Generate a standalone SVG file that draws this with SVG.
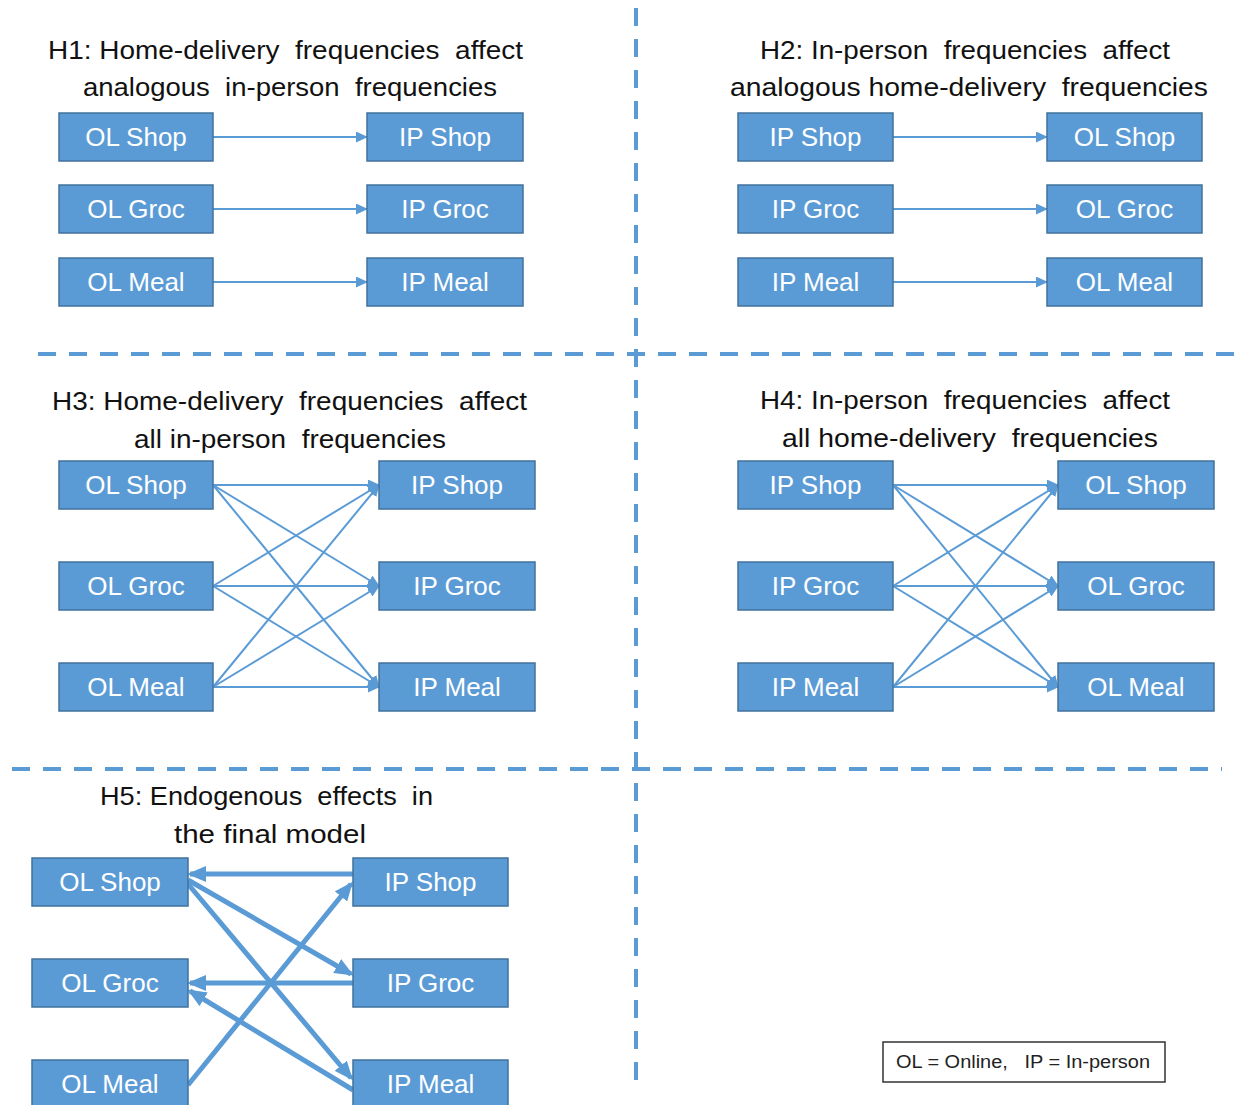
<svg xmlns="http://www.w3.org/2000/svg" width="1241" height="1105" viewBox="0 0 1241 1105">
<style>
.bg{fill:#ffffff}
.box{fill:#5B9BD5;stroke:#41719C;stroke-width:1.5}
.lbl{font-family:"Liberation Sans",Arial,sans-serif;font-size:26px;fill:#ffffff;text-anchor:middle}
.ttl{font-family:"Liberation Sans",Arial,sans-serif;font-size:25px;fill:#111111;white-space:pre}
.div{stroke:#5B9BD5;stroke-width:4;stroke-dasharray:18 13;fill:none}
.thin{stroke:#5B9BD5;stroke-width:2;fill:none;marker-end:url(#ah)}
.thick{stroke:#5B9BD5;stroke-width:5;fill:none;marker-end:url(#ahb)}
.leg{fill:#ffffff;stroke:#333333;stroke-width:1.5}
.legt{font-family:"Liberation Sans",Arial,sans-serif;font-size:18px;fill:#222222;white-space:pre}
</style>
<defs>
<marker id="ah" markerUnits="userSpaceOnUse" markerWidth="13" markerHeight="11" refX="11" refY="5.5" orient="auto">
<path d="M0,0 L12,5.5 L0,11 z" fill="#5B9BD5"/>
</marker>
<marker id="ahb" markerUnits="userSpaceOnUse" markerWidth="20" markerHeight="16" refX="16" refY="8" orient="auto">
<path d="M0,0 L19,8 L0,16 z" fill="#5B9BD5"/>
</marker>
</defs>
<rect class="bg" x="0" y="0" width="1241" height="1105"/>

<g id="dividers">
<line class="div" x1="636" y1="8" x2="636" y2="1092"/>
<line class="div" x1="38" y1="354" x2="1241" y2="354"/>
<line class="div" x1="12" y1="769" x2="1222" y2="769"/>
</g>

<g id="titles">
<text class="ttl" x="48" y="59" textLength="475" lengthAdjust="spacingAndGlyphs">H1: Home-delivery  frequencies  affect</text>
<text class="ttl" x="83" y="96" textLength="414" lengthAdjust="spacingAndGlyphs">analogous  in-person  frequencies</text>
<text class="ttl" x="760" y="59" textLength="410" lengthAdjust="spacingAndGlyphs">H2: In-person  frequencies  affect</text>
<text class="ttl" x="730" y="96" textLength="478" lengthAdjust="spacingAndGlyphs">analogous home-delivery  frequencies</text>
<text class="ttl" x="52" y="410" textLength="475" lengthAdjust="spacingAndGlyphs">H3: Home-delivery  frequencies  affect</text>
<text class="ttl" x="134" y="448" textLength="312" lengthAdjust="spacingAndGlyphs">all in-person  frequencies</text>
<text class="ttl" x="760" y="409" textLength="410" lengthAdjust="spacingAndGlyphs">H4: In-person  frequencies  affect</text>
<text class="ttl" x="782" y="447" textLength="376" lengthAdjust="spacingAndGlyphs">all home-delivery  frequencies</text>
<text class="ttl" x="100" y="805" textLength="333" lengthAdjust="spacingAndGlyphs">H5: Endogenous  effects  in</text>
<text class="ttl" x="174" y="843" textLength="192" lengthAdjust="spacingAndGlyphs">the final model</text>
</g>

<g id="connectors">
<line class="thin" x1="213" y1="137" x2="367" y2="137"/>
<line class="thin" x1="213" y1="209" x2="367" y2="209"/>
<line class="thin" x1="213" y1="282" x2="367" y2="282"/>
<line class="thin" x1="893" y1="137" x2="1047" y2="137"/>
<line class="thin" x1="893" y1="209" x2="1047" y2="209"/>
<line class="thin" x1="893" y1="282" x2="1047" y2="282"/>

<line class="thin" x1="213" y1="485" x2="379" y2="485"/>
<line class="thin" x1="213" y1="485" x2="379" y2="586"/>
<line class="thin" x1="213" y1="485" x2="379" y2="687"/>
<line class="thin" x1="213" y1="586" x2="379" y2="485"/>
<line class="thin" x1="213" y1="586" x2="379" y2="586"/>
<line class="thin" x1="213" y1="586" x2="379" y2="687"/>
<line class="thin" x1="213" y1="687" x2="379" y2="485"/>
<line class="thin" x1="213" y1="687" x2="379" y2="586"/>
<line class="thin" x1="213" y1="687" x2="379" y2="687"/>

<line class="thin" x1="893" y1="485" x2="1058" y2="485"/>
<line class="thin" x1="893" y1="485" x2="1058" y2="586"/>
<line class="thin" x1="893" y1="485" x2="1058" y2="687"/>
<line class="thin" x1="893" y1="586" x2="1058" y2="485"/>
<line class="thin" x1="893" y1="586" x2="1058" y2="586"/>
<line class="thin" x1="893" y1="586" x2="1058" y2="687"/>
<line class="thin" x1="893" y1="687" x2="1058" y2="485"/>
<line class="thin" x1="893" y1="687" x2="1058" y2="586"/>
<line class="thin" x1="893" y1="687" x2="1058" y2="687"/>

<line class="thick" x1="353" y1="874" x2="190" y2="874"/>
<line class="thick" x1="188" y1="880" x2="351" y2="974"/>
<line class="thick" x1="188" y1="884" x2="351" y2="1078"/>
<line class="thick" x1="188" y1="1085" x2="351" y2="884"/>
<line class="thick" x1="353" y1="983" x2="190" y2="983"/>
<line class="thick" x1="353" y1="1090" x2="190" y2="991"/>
</g>

<g id="h1-ol-shop"><rect class="box" x="59" y="113" width="154" height="48"/><text class="lbl" x="136" y="146">OL Shop</text></g>
<g id="h1-ol-groc"><rect class="box" x="59" y="185" width="154" height="48"/><text class="lbl" x="136" y="218">OL Groc</text></g>
<g id="h1-ol-meal"><rect class="box" x="59" y="258" width="154" height="48"/><text class="lbl" x="136" y="291">OL Meal</text></g>
<g id="h1-ip-shop"><rect class="box" x="367" y="113" width="156" height="48"/><text class="lbl" x="445" y="146">IP Shop</text></g>
<g id="h1-ip-groc"><rect class="box" x="367" y="185" width="156" height="48"/><text class="lbl" x="445" y="218">IP Groc</text></g>
<g id="h1-ip-meal"><rect class="box" x="367" y="258" width="156" height="48"/><text class="lbl" x="445" y="291">IP Meal</text></g>

<g id="h2-ip-shop"><rect class="box" x="738" y="113" width="155" height="48"/><text class="lbl" x="815.5" y="146">IP Shop</text></g>
<g id="h2-ip-groc"><rect class="box" x="738" y="185" width="155" height="48"/><text class="lbl" x="815.5" y="218">IP Groc</text></g>
<g id="h2-ip-meal"><rect class="box" x="738" y="258" width="155" height="48"/><text class="lbl" x="815.5" y="291">IP Meal</text></g>
<g id="h2-ol-shop"><rect class="box" x="1047" y="113" width="155" height="48"/><text class="lbl" x="1124.5" y="146">OL Shop</text></g>
<g id="h2-ol-groc"><rect class="box" x="1047" y="185" width="155" height="48"/><text class="lbl" x="1124.5" y="218">OL Groc</text></g>
<g id="h2-ol-meal"><rect class="box" x="1047" y="258" width="155" height="48"/><text class="lbl" x="1124.5" y="291">OL Meal</text></g>

<g id="h3-ol-shop"><rect class="box" x="59" y="461" width="154" height="48"/><text class="lbl" x="136" y="494">OL Shop</text></g>
<g id="h3-ol-groc"><rect class="box" x="59" y="562" width="154" height="48"/><text class="lbl" x="136" y="595">OL Groc</text></g>
<g id="h3-ol-meal"><rect class="box" x="59" y="663" width="154" height="48"/><text class="lbl" x="136" y="696">OL Meal</text></g>
<g id="h3-ip-shop"><rect class="box" x="379" y="461" width="156" height="48"/><text class="lbl" x="457" y="494">IP Shop</text></g>
<g id="h3-ip-groc"><rect class="box" x="379" y="562" width="156" height="48"/><text class="lbl" x="457" y="595">IP Groc</text></g>
<g id="h3-ip-meal"><rect class="box" x="379" y="663" width="156" height="48"/><text class="lbl" x="457" y="696">IP Meal</text></g>

<g id="h4-ip-shop"><rect class="box" x="738" y="461" width="155" height="48"/><text class="lbl" x="815.5" y="494">IP Shop</text></g>
<g id="h4-ip-groc"><rect class="box" x="738" y="562" width="155" height="48"/><text class="lbl" x="815.5" y="595">IP Groc</text></g>
<g id="h4-ip-meal"><rect class="box" x="738" y="663" width="155" height="48"/><text class="lbl" x="815.5" y="696">IP Meal</text></g>
<g id="h4-ol-shop"><rect class="box" x="1058" y="461" width="156" height="48"/><text class="lbl" x="1136" y="494">OL Shop</text></g>
<g id="h4-ol-groc"><rect class="box" x="1058" y="562" width="156" height="48"/><text class="lbl" x="1136" y="595">OL Groc</text></g>
<g id="h4-ol-meal"><rect class="box" x="1058" y="663" width="156" height="48"/><text class="lbl" x="1136" y="696">OL Meal</text></g>

<g id="h5-ol-shop"><rect class="box" x="32" y="858" width="156" height="48"/><text class="lbl" x="110" y="891">OL Shop</text></g>
<g id="h5-ol-groc"><rect class="box" x="32" y="959" width="156" height="48"/><text class="lbl" x="110" y="992">OL Groc</text></g>
<g id="h5-ol-meal"><rect class="box" x="32" y="1060" width="156" height="48"/><text class="lbl" x="110" y="1093">OL Meal</text></g>
<g id="h5-ip-shop"><rect class="box" x="353" y="858" width="155" height="48"/><text class="lbl" x="430.5" y="891">IP Shop</text></g>
<g id="h5-ip-groc"><rect class="box" x="353" y="959" width="155" height="48"/><text class="lbl" x="430.5" y="992">IP Groc</text></g>
<g id="h5-ip-meal"><rect class="box" x="353" y="1060" width="155" height="48"/><text class="lbl" x="430.5" y="1093">IP Meal</text></g>

<g id="legend"><rect class="leg" x="883" y="1042" width="282" height="40"/><text class="legt" x="896" y="1068" textLength="254" lengthAdjust="spacingAndGlyphs">OL = Online,   IP = In-person</text></g>
</svg>
